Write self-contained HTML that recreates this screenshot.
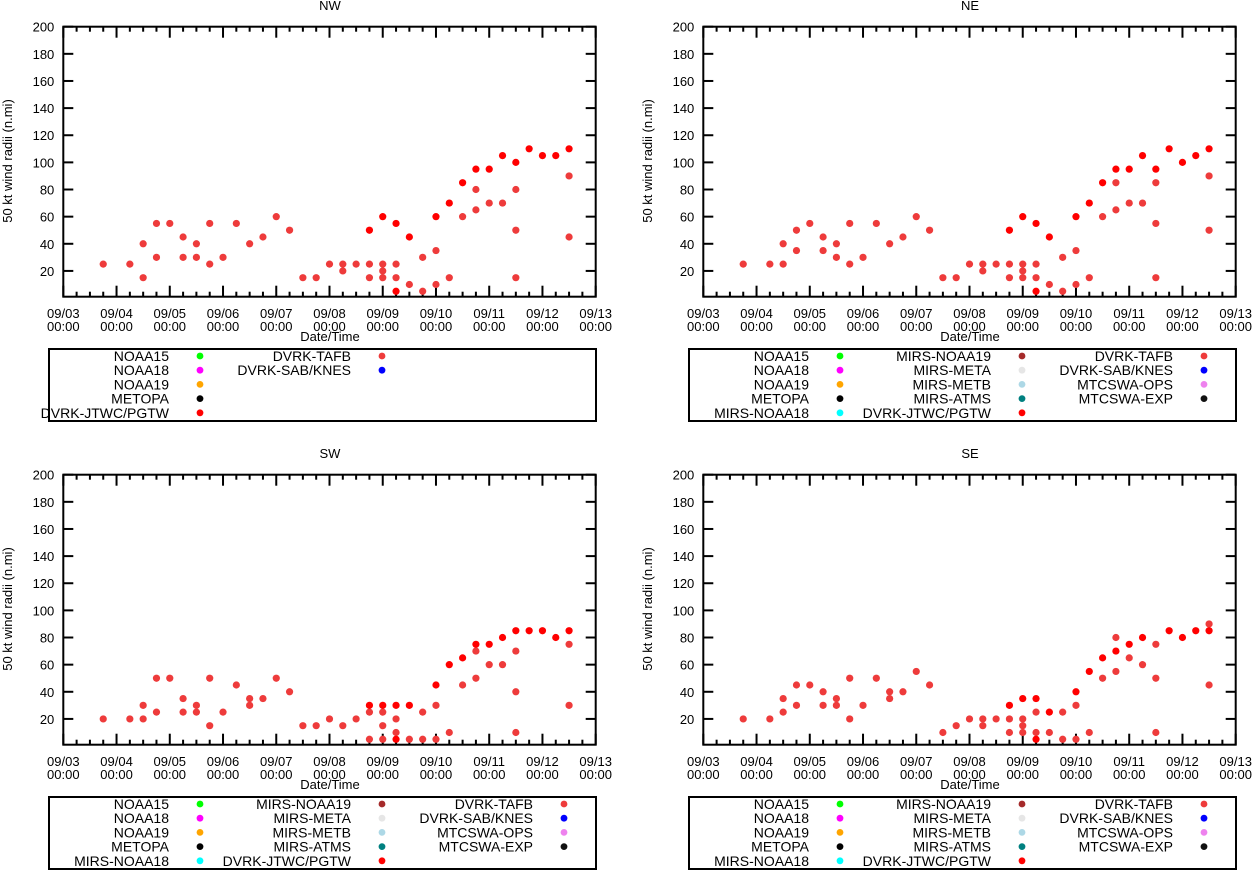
<!DOCTYPE html>
<html><head><meta charset="utf-8"><style>
html,body{margin:0;padding:0;background:#fff;}
svg{display:block;font-family:"Liberation Sans",Arial,sans-serif;}
</style></head><body>
<svg id="chart" width="1253" height="870" viewBox="0 0 1253 870" xmlns="http://www.w3.org/2000/svg"></svg>
<script>
// hours since 09/03 00:00
const nwTafbTimes=[18,30,36,36,42,42,48,54,54,60,60,66,66,72,78,84,90,96,102,108,114,120,126,126,132,138,138,144,144,144,150,150,156,162,162,168,168,174,180,186,186,192,198,204,204,204,228,228];
const nwTafbValues=[25,25,40,15,55,30,55,45,30,40,30,55,25,30,55,40,45,60,50,15,15,25,25,20,25,25,15,25,20,15,25,15,10,30,5,35,10,15,60,80,65,70,70,80,50,15,90,45];
const nwJtwcTimes=[138,144,150,150,156,168,174,180,186,192,198,204,210,216,222,228];
const nwJtwcValues=[50,60,55,5,45,60,70,85,95,95,105,100,110,105,105,110];

const neTafbTimes=[18,30,36,36,42,42,48,54,54,60,60,66,66,72,78,84,90,96,102,108,114,120,126,126,132,138,138,144,144,144,150,150,156,162,162,168,168,174,180,186,186,192,198,204,204,204,228,228];
const neTafbValues=[25,25,40,25,50,35,55,45,35,40,30,55,25,30,55,40,45,60,50,15,15,25,25,20,25,25,15,25,20,15,25,15,10,30,5,35,10,15,60,85,65,70,70,85,55,15,90,50];
const neJtwcTimes=[138,144,150,150,156,168,174,180,186,192,198,204,210,216,222,228];
const neJtwcValues=[50,60,55,5,45,60,70,85,95,95,105,95,110,100,105,110];

const swTafbTimes=[18,30,36,36,42,42,48,54,54,60,60,66,66,72,78,84,84,90,96,102,108,114,120,126,132,138,138,144,144,144,150,150,156,162,162,168,168,174,180,186,186,192,198,204,204,204,228,228];
const swTafbValues=[20,20,30,20,50,25,50,35,25,30,25,50,15,25,45,35,30,35,50,40,15,15,20,15,20,25,5,25,15,5,20,10,5,25,5,30,5,10,45,70,50,60,60,70,40,10,75,30];
const swJtwcTimes=[138,144,150,150,156,168,174,180,186,192,198,204,210,216,222,228];
const swJtwcValues=[30,30,30,5,30,45,60,65,75,75,80,85,85,85,80,85];

const seTafbTimes=[18,30,36,36,42,42,48,54,54,60,60,66,66,72,78,84,84,90,96,102,108,114,120,126,126,132,138,138,144,144,144,150,150,156,162,162,168,168,174,180,186,186,192,198,204,204,204,228,228];
const seTafbValues=[20,20,35,25,45,30,45,40,30,35,30,50,20,30,50,40,35,40,55,45,10,15,20,20,15,20,20,10,20,15,10,25,10,10,25,5,30,5,10,50,80,55,65,60,75,50,10,90,45];
const seJtwcTimes=[138,144,150,150,156,168,174,180,186,192,198,210,216,222,228];
const seJtwcValues=[30,35,35,5,25,40,55,65,70,75,80,85,80,85,85];

const yTicks=[20,40,60,80,100,120,140,160,180,200];
const dateLabels=["09/03","09/04","09/05","09/06","09/07","09/08","09/09","09/10","09/11","09/12","09/13"];

const NS="http://www.w3.org/2000/svg";
const svg=document.getElementById('chart');
const PL=63.3,PR=595.7,PT=26.7,PB=296.7,YMIN=1,YMAX=200,TMAX=240;
function xs(h){return PL+(h/TMAX)*(PR-PL);}
function ys(v){return PB-(v-YMIN)/(YMAX-YMIN)*(PB-PT);}
function mk(tag,attrs,parent){const e=document.createElementNS(NS,tag);for(const k in attrs)e.setAttribute(k,attrs[k]);parent.appendChild(e);return e;}
function txt(s,x,y,anchor,parent,fs){const t=mk('text',{x:x,y:y,'font-size':fs||13,'text-anchor':anchor,fill:'#000'},parent);t.textContent=s;return t;}

const legendFull=[
 ["NOAA15","#00ff00"],["NOAA18","#ff00ff"],["NOAA19","#ffa500"],["METOPA","#000000"],["MIRS-NOAA18","#00ffff"],
 ["MIRS-NOAA19","#a52a2a"],["MIRS-META","#e6e6e6"],["MIRS-METB","#add8e6"],["MIRS-ATMS","#008080"],["DVRK-JTWC/PGTW","#ff0000"],
 ["DVRK-TAFB","#ee3b3b"],["DVRK-SAB/KNES","#0000ff"],["MTCSWA-OPS","#ee82ee"],["MTCSWA-EXP","#111111"]];
const legendNW=[["NOAA15","#00ff00"],["NOAA18","#ff00ff"],["NOAA19","#ffa500"],["METOPA","#000000"],["DVRK-JTWC/PGTW","#ff0000"],["DVRK-TAFB","#ee3b3b"],["DVRK-SAB/KNES","#0000ff"]];

function panel(name,ox,oy,tT,tV,jT,jV,legend){
 const g=mk('g',{transform:`translate(${ox},${oy})`},svg);
 
 
 const ti=txt(name,330,10,'middle',g);
 
 
 const yt=mk('text',{x:0,y:0,'font-size':13,'text-anchor':'middle',transform:'translate(12,161) rotate(-90)'},g);
 yt.textContent="50 kt wind radii (n.mi)";
 
 
 yTicks.forEach(v=>{const y=ys(v);
  mk('line',{x1:PL,y1:y,x2:PL+10,y2:y,stroke:'#000','stroke-width':2},g);
  mk('line',{x1:PR,y1:y,x2:PR-10,y2:y,stroke:'#000','stroke-width':2},g);
  const l=txt(String(v),PL-9,y+5,'end',g);
  
  
 });
 for(let h=0;h<=TMAX;h+=6){const x=xs(h);const len=(h%24===0)?11:5;
  mk('line',{x1:x,y1:PB,x2:x,y2:PB-len,stroke:'#000','stroke-width':2},g);
  mk('line',{x1:x,y1:PT,x2:x,y2:PT+len,stroke:'#000','stroke-width':2},g);
 }
 dateLabels.forEach((d,i)=>{const x=xs(i*24);
  const a=txt(d,x,318,'middle',g);
  
  
  txt("00:00",x,331,'middle',g);
 });
 const xt=txt("Date/Time",330,341,'middle',g);
 
 
 const fr=mk('rect',{x:PL,y:PT,width:PR-PL,height:PB-PT,fill:'none',stroke:'#000','stroke-width':2},g);
 
 
 tT.forEach((t,i)=>{const c=mk('circle',{cx:xs(t),cy:ys(tV[i]),r:3.6,fill:'#ee3b3b'},g);
  
  });
 jT.forEach((t,i)=>{const c=mk('circle',{cx:xs(t),cy:ys(jV[i]),r:3.6,fill:'#ff0000'},g);
  
  });
 const lb=mk('rect',{x:49,y:349,width:547,height:72,fill:'none',stroke:'#000','stroke-width':2},g);
 
 
 const colText=[169,351,533],colDot=[200,382,564];
 legend.forEach((e,i)=>{const col=Math.floor(i/5),row=i%5;const y=356+row*14.2;
  const lt=txt(e[0],colText[col],y+5,'end',g,14);
  
  
  mk('circle',{cx:colDot[col],cy:y,r:3.4,fill:e[1]},g);
 });
}
panel("NW",0,0,nwTafbTimes,nwTafbValues,nwJtwcTimes,nwJtwcValues,legendNW);
panel("NE",640,0,neTafbTimes,neTafbValues,neJtwcTimes,neJtwcValues,legendFull);
panel("SW",0,448,swTafbTimes,swTafbValues,swJtwcTimes,swJtwcValues,legendFull);
panel("SE",640,448,seTafbTimes,seTafbValues,seJtwcTimes,seJtwcValues,legendFull);
</script>
</body></html>
